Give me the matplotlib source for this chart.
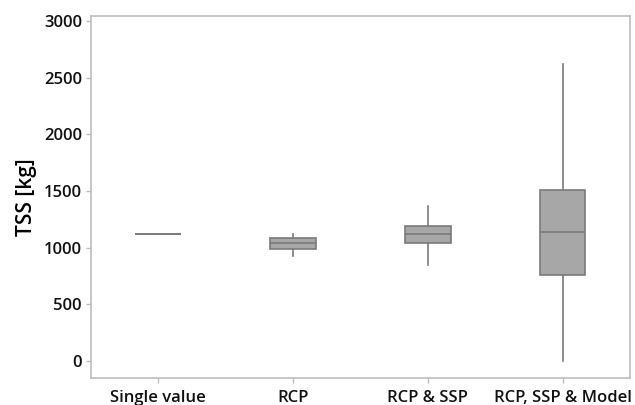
import matplotlib
matplotlib.use("Agg")
import matplotlib.pyplot as plt

# values (TSS in kg)
scenarios = ["Single value", "RCP", "RCP & SSP", "RCP, SSP & Model"]
whisker_low = [1120, 925, 850, 0]
q1 = [1120, 985, 1045, 760]
medians = [1120, 1045, 1118, 1140]
q3 = [1120, 1088, 1192, 1510]
whisker_high = [1120, 1118, 1368, 2622]

plt.rcParams['font.family'] = ['Open Sans', 'DejaVu Sans']

fig = plt.figure(figsize=(6.35, 4.05), dpi=100)
ax = fig.add_axes([0.1433, 0.0667, 0.8487, 0.8938])

stats = []
for i, name in enumerate(scenarios):
    stats.append({
        'label': name,
        'whislo': whisker_low[i],
        'q1': q1[i],
        'med': medians[i],
        'q3': q3[i],
        'whishi': whisker_high[i],
        'fliers': [],
    })

edge = '#7a7a7a'
ax.bxp(stats, positions=range(1, len(scenarios) + 1), widths=0.34,
       patch_artist=True, showcaps=False, showfliers=False,
       boxprops=dict(facecolor='#a7a7a7', edgecolor=edge, linewidth=1.2),
       medianprops=dict(color=edge, linewidth=1.2),
       whiskerprops=dict(color=edge, linewidth=1.2))

ax.set_xlim(0.5, 4.5)
ax.set_ylim(-150, 3045)
ax.set_yticks([0, 500, 1000, 1500, 2000, 2500, 3000])
ax.set_ylabel("TSS [kg]", fontsize=15, fontweight='semibold', labelpad=5)

for s in ax.spines.values():
    s.set_color('#bdbdbd')
    s.set_linewidth(1.2)
ax.tick_params(colors='#bdbdbd', length=3.5, width=1, labelcolor='#111111')
ax.tick_params(axis='y', labelsize=12, pad=3)
ax.tick_params(axis='x', labelsize=12, pad=5)
for lbl in ax.get_xticklabels() + ax.get_yticklabels():
    lbl.set_fontweight('semibold')

fig.savefig("out.png", dpi=100)
